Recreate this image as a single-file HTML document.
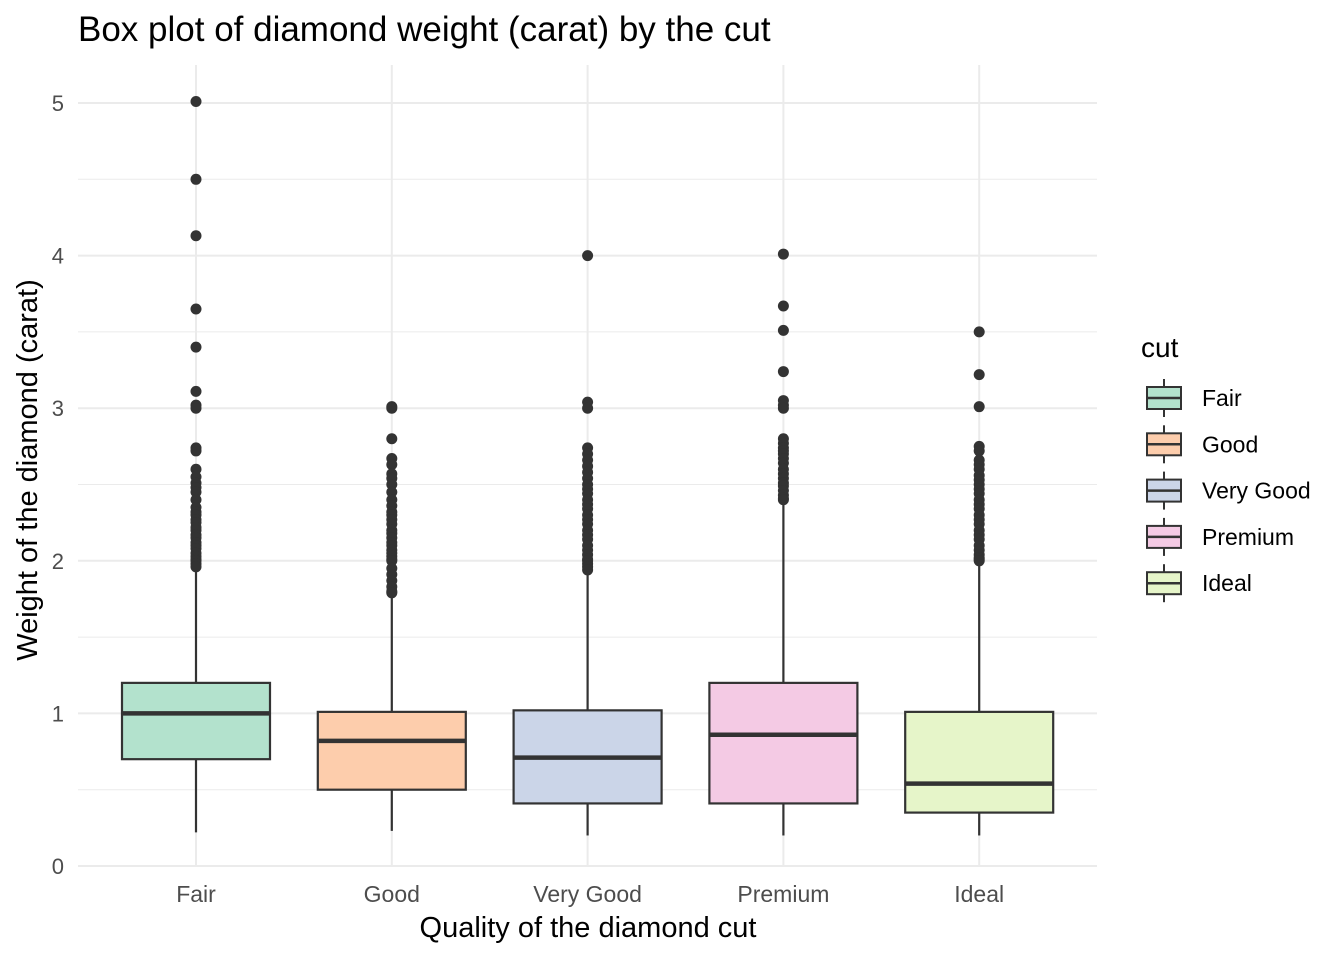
<!DOCTYPE html>
<html><head><meta charset="utf-8"><style>
body{margin:0;background:#fff;font-family:"Liberation Sans",sans-serif}
svg text{font-family:"Liberation Sans",sans-serif}
</style></head><body>
<svg id="chart" width="1344" height="960">
<text x="78" y="41" font-size="35" fill="#000">Box plot of diamond weight (carat) by the cut</text>
<g id="grid"></g><g id="marks"></g><g id="axes"></g>
<text x="588" y="937" font-size="29" text-anchor="middle">Quality of the diamond cut</text>
<text transform="translate(37,470) rotate(-90)" font-size="29" text-anchor="middle">Weight of the diamond (carat)</text>
<text x="1141" y="357" font-size="28">cut</text>
<g id="legend"></g>
</svg>
<script>
const categories=["Fair","Good","Very Good","Premium","Ideal"];
const colors=["#B3E2CD","#FDCDAC","#CBD5E8","#F4CAE4","#E6F5C9"];
const lowW=[0.22,0.23,0.2,0.2,0.2];
const q1=[0.70,0.50,0.41,0.41,0.35];
const med=[1.00,0.82,0.71,0.86,0.54];
const q3=[1.20,1.01,1.02,1.20,1.01];
const highW=[1.95,1.77,1.92,2.38,1.99];
const outFair=[5.01,4.5,4.13,3.65,3.4,3.11,3.02,3.0,2.74,2.72,2.6,2.55,2.51,2.48,2.45,2.4,2.35,2.32,2.3,2.27,2.25,2.22,2.2,2.17,2.15,2.12,2.1,2.08,2.05,2.03,2.01,2.0,1.98,1.96];
const outGood=[3.01,3.0,2.8,2.67,2.63,2.57,2.54,2.5,2.45,2.4,2.36,2.32,2.3,2.27,2.24,2.2,2.18,2.15,2.12,2.1,2.07,2.05,2.03,2.01,2.0,1.95,1.91,1.87,1.83,1.8,1.79];
const outVeryGood=[4.0,3.04,3.0,2.74,2.7,2.66,2.62,2.58,2.54,2.5,2.47,2.44,2.4,2.37,2.34,2.3,2.27,2.24,2.2,2.17,2.14,2.1,2.07,2.04,2.01,2.0,1.98,1.96,1.94];
const outPremium=[4.01,3.67,3.51,3.24,3.05,3.02,3.0,2.8,2.77,2.74,2.72,2.7,2.67,2.64,2.6,2.57,2.54,2.51,2.49,2.46,2.43,2.41,2.4];
const outIdeal=[3.5,3.22,3.01,2.75,2.72,2.66,2.63,2.6,2.56,2.53,2.5,2.47,2.44,2.4,2.37,2.34,2.3,2.27,2.24,2.2,2.17,2.14,2.1,2.07,2.04,2.02,2.01,2.0];
const outliers=[outFair,outGood,outVeryGood,outPremium,outIdeal];
const yTicks=[0,1,2,3,4,5];
const NS="http://www.w3.org/2000/svg";
const L=78,R=1097,T=65,B=866;
const y=v=>866-152.6*v;
const x=i=>196+i*195.8;
function mk(t,a,p){const e=document.createElementNS(NS,t);for(const k in a)e.setAttribute(k,a[k]);p.appendChild(e);return e;}
const grid=document.getElementById('grid'),marks=document.getElementById('marks'),axes=document.getElementById('axes'),leg=document.getElementById('legend');
for(let v=0;v<=5.01;v+=0.5){const major=Math.abs(v-Math.round(v))<1e-6;
const g=mk('line',{x1:L,x2:R,y1:y(v),y2:y(v),stroke:'#ebebeb','stroke-width':major?2:1},grid);

}
categories.forEach((c,i)=>{const g=mk('line',{x1:x(i),x2:x(i),y1:T,y2:B,stroke:'#ebebeb','stroke-width':2},grid);

});
yTicks.forEach(v=>{const t=mk('text',{x:64,y:y(v)+8,'font-size':22,fill:'#4d4d4d','text-anchor':'end'},axes);t.textContent=v;

});
const hw=74;
categories.forEach((c,i)=>{const cx=x(i);
const grp=mk('g',{},marks);


mk('line',{x1:cx,x2:cx,y1:y(lowW[i]),y2:y(q1[i]),stroke:'#333','stroke-width':2.2},grp);
mk('line',{x1:cx,x2:cx,y1:y(q3[i]),y2:y(highW[i]),stroke:'#333','stroke-width':2.2},grp);
mk('rect',{x:cx-hw,y:y(q3[i]),width:2*hw,height:y(q1[i])-y(q3[i]),fill:colors[i],stroke:'#333','stroke-width':2.2},grp);
mk('line',{x1:cx-hw,x2:cx+hw,y1:y(med[i]),y2:y(med[i]),stroke:'#333','stroke-width':4.5},grp);
outliers[i].forEach(v=>{const p=mk('circle',{cx:cx,cy:y(v),r:5.5,fill:'#333'},marks);

});
const t=mk('text',{x:cx,y:902,'font-size':23,fill:'#4d4d4d','text-anchor':'middle'},axes);t.textContent=c;


const ly=398+i*46.3;
const lg=mk('g',{},leg);


mk('line',{x1:1164,x2:1164,y1:ly-19,y2:ly+19,stroke:'#333','stroke-width':2},lg);
mk('rect',{x:1147,y:ly-11,width:34,height:22,fill:colors[i],stroke:'#333','stroke-width':2},lg);
mk('line',{x1:1147,x2:1181,y1:ly,y2:ly,stroke:'#333','stroke-width':2.5},lg);
const lt=mk('text',{x:1202,y:ly+8,'font-size':23},lg);lt.textContent=c;
});
</script>
</body></html>
